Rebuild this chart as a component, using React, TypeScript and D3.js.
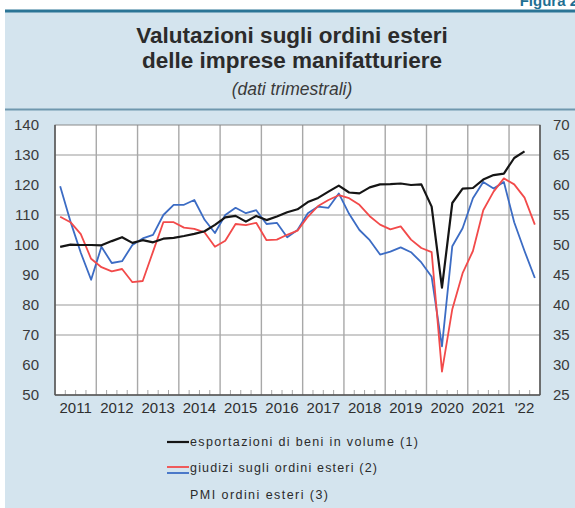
import React from "react";
import * as d3 from "d3";

// ---- data (quarterly, 2011Q1 onwards) ----
const startYear = 2011;
const yearLabels = ["2011", "2012", "2013", "2014", "2015", "2016", "2017", "2018", "2019", "2020", "2021", "'22"];
const leftTicks = [50, 60, 70, 80, 90, 100, 110, 120, 130, 140];
const rightTicks = [25, 30, 35, 40, 45, 50, 55, 60, 65, 70];
const gridValues = [70, 80, 110, 130];

// esportazioni di beni in volume (left axis), 2011Q1-2022Q2
const exportsVolume = [
  99.4, 100.1, 100.0, 100.0, 99.9, 101.3, 102.6, 100.7, 101.6, 100.9, 102.1, 102.4,
  103.0, 103.7, 104.6, 106.7, 109.2, 109.7, 107.8, 109.7, 108.3, 109.5, 110.9, 111.9,
  114.3, 115.7, 117.8, 119.8, 117.5, 117.2, 119.2, 120.2, 120.3, 120.5, 120.0, 120.2,
  112.8, 85.8, 114.0, 118.8, 119.0, 121.8, 123.3, 123.8, 129.0, 131.2,
];
// giudizi sugli ordini esteri (right axis), 2011Q1-2022Q3
const foreignOrdersJudgements = [
  54.7, 53.8, 51.8, 47.7, 46.3, 45.6, 46.0, 43.8, 44.0, 48.9, 53.8, 53.8,
  52.9, 52.7, 52.1, 49.7, 50.7, 53.5, 53.3, 53.7, 50.8, 50.9, 51.7, 52.4,
  54.7, 56.5, 57.5, 58.3, 57.8, 56.7, 54.8, 53.4, 52.6, 53.1, 50.9, 49.5,
  48.8, 28.9, 39.3, 45.3, 49.0, 55.8, 58.9, 61.1, 60.1, 57.9, 53.4,
];
// PMI ordini esteri (right axis), 2011Q1-2022Q3
const pmiForeignOrders = [
  59.8, 53.9, 48.7, 44.2, 49.7, 47.0, 47.3, 50.0, 51.1, 51.7, 55.0, 56.7,
  56.7, 57.5, 54.2, 52.0, 55.0, 56.2, 55.3, 55.8, 53.5, 53.7, 51.3, 52.5,
  55.3, 56.4, 56.2, 58.6, 55.2, 52.5, 50.8, 48.4, 48.9, 49.6, 48.8, 47.1,
  44.7, 33.1, 49.8, 52.8, 57.8, 60.5, 59.4, 60.5, 53.8, 49.0, 44.5,
];

const legendItems = [
  "esportazioni di beni in volume (1)",
  "giudizi sugli ordini esteri (2)",
  "PMI ordini esteri (3)",
];

const W = 575;
const H = 508;
const plot = { left: 55, right: 540, top: 125, bottom: 395 };
const BG = "#d4e4ee";

export default function App() {
  const x = d3.scaleLinear().domain([startYear, 2022.75]).range([plot.left, plot.right]);
  const yL = d3.scaleLinear().domain([50, 140]).range([plot.bottom, plot.top]);
  const yR = d3.scaleLinear().domain([25, 70]).range([plot.bottom, plot.top]);
  const qx = (i: number) => x(startYear + (i + 0.5) / 4);

  const lineL = d3.line<number>().x((_, i) => qx(i)).y((d) => yL(d));
  const lineR = d3.line<number>().x((_, i) => qx(i)).y((d) => yR(d));

  const yearBounds = d3.range(startYear + 1, 2023);
  const quarters = d3.range(1, 47).filter((q) => q % 4 !== 0).map((q) => startYear + q / 4);

  const font = "'Liberation Sans', Arial, sans-serif";

  return (
    <svg width={W} height={H} style={{ position: "absolute", left: 0, top: 0 }} fontFamily={font}>
      <rect x={0} y={0} width={W} height={H} fill="#ffffff" />
      <text x={578} y={6} textAnchor="end" fontSize={15} fontWeight="bold" fill="#1f6f93">Figura 2</text>
      <rect x={5} y={11} width={W - 5} height={H - 11} fill={BG} />
      <line x1={5} x2={W} y1={11} y2={11} stroke="#2b7596" strokeWidth={3} />
      <line x1={5} x2={W} y1={109.5} y2={109.5} stroke="#6f97ae" strokeWidth={2} />

      <text x={292} y={43} textAnchor="middle" fontSize={22.5} fontWeight="bold" fill="#2b2b2b">Valutazioni sugli ordini esteri</text>
      <text x={292} y={68} textAnchor="middle" fontSize={22.5} fontWeight="bold" fill="#2b2b2b">delle imprese manifatturiere</text>
      <text x={292} y={95} textAnchor="middle" fontSize={17.5} fontStyle="italic" fill="#3a3a3a">(dati trimestrali)</text>

      {/* plot area */}
      <rect x={plot.left} y={plot.top} width={plot.right - plot.left} height={plot.bottom - plot.top} fill="#ffffff" />
      {gridValues.map((v) => (
        <line key={"h" + v} x1={plot.left} x2={plot.right} y1={yL(v)} y2={yL(v)} stroke="#9a9a9a" strokeWidth={1.2} />
      ))}
      {yearBounds.map((yr) => (
        <line key={"v" + yr} x1={x(yr)} x2={x(yr)} y1={plot.top} y2={plot.bottom} stroke="#a8a8a8" strokeWidth={1.4} />
      ))}
      {quarters.map((q) => (
        <line key={"q" + q} x1={x(q)} x2={x(q)} y1={plot.bottom} y2={plot.bottom - 5} stroke="#a8a8a8" strokeWidth={1} />
      ))}
      <rect x={plot.left} y={plot.top} width={plot.right - plot.left} height={plot.bottom - plot.top} fill="none" stroke="#8a8a8a" strokeWidth={1} />
      <line x1={plot.left} x2={plot.left} y1={plot.top} y2={plot.bottom} stroke="#555" strokeWidth={1.5} />
      <line x1={plot.left} x2={plot.right} y1={plot.bottom} y2={plot.bottom} stroke="#555" strokeWidth={1.5} />
      <line x1={plot.right} x2={plot.right} y1={plot.top} y2={plot.bottom} stroke="#555" strokeWidth={1.5} />

      <path d={lineR(pmiForeignOrders) || ""} fill="none" stroke="#3c6cc4" strokeWidth={1.8} strokeLinejoin="round" />
      <path d={lineR(foreignOrdersJudgements) || ""} fill="none" stroke="#f24a4a" strokeWidth={1.8} strokeLinejoin="round" />
      <path d={lineL(exportsVolume) || ""} fill="none" stroke="#151515" strokeWidth={2.2} strokeLinejoin="round" />

      {/* axes labels */}
      {leftTicks.map((v) => (
        <text key={"l" + v} x={39} y={yL(v)} dy="0.35em" textAnchor="end" fontSize={15} fill="#3a3a3a">{v}</text>
      ))}
      {rightTicks.map((v) => (
        <text key={"r" + v} x={553} y={yR(v)} dy="0.35em" textAnchor="start" fontSize={15} fill="#3a3a3a">{v}</text>
      ))}
      {yearLabels.map((lab, i) => (
        <text key={"y" + lab} x={x(startYear + i + (i === 11 ? 0.375 : 0.5))} y={408} dy="0.35em" textAnchor="middle" fontSize={15} fill="#2f2f2f">{lab}</text>
      ))}

      {/* legend */}
      <line x1={167} x2={189} y1={442} y2={442} stroke="#151515" strokeWidth={2.2} />
      <line x1={167} x2={189} y1={467} y2={467} stroke="#f24a4a" strokeWidth={1.8} />
      <line x1={167} x2={189} y1={473} y2={473} stroke="#3c6cc4" strokeWidth={1.8} />
      <text x={190} y={442} dy="0.35em" fontSize={12.5} fill="#2a2a2a" textLength={228} lengthAdjust="spacing">{legendItems[0]}</text>
      <text x={190} y={468} dy="0.35em" fontSize={12.5} fill="#2a2a2a" textLength={187} lengthAdjust="spacing">{legendItems[1]}</text>
      <text x={190} y={495} dy="0.35em" fontSize={12.5} fill="#2a2a2a" textLength={138} lengthAdjust="spacing">{legendItems[2]}</text>
    </svg>
  );
}
